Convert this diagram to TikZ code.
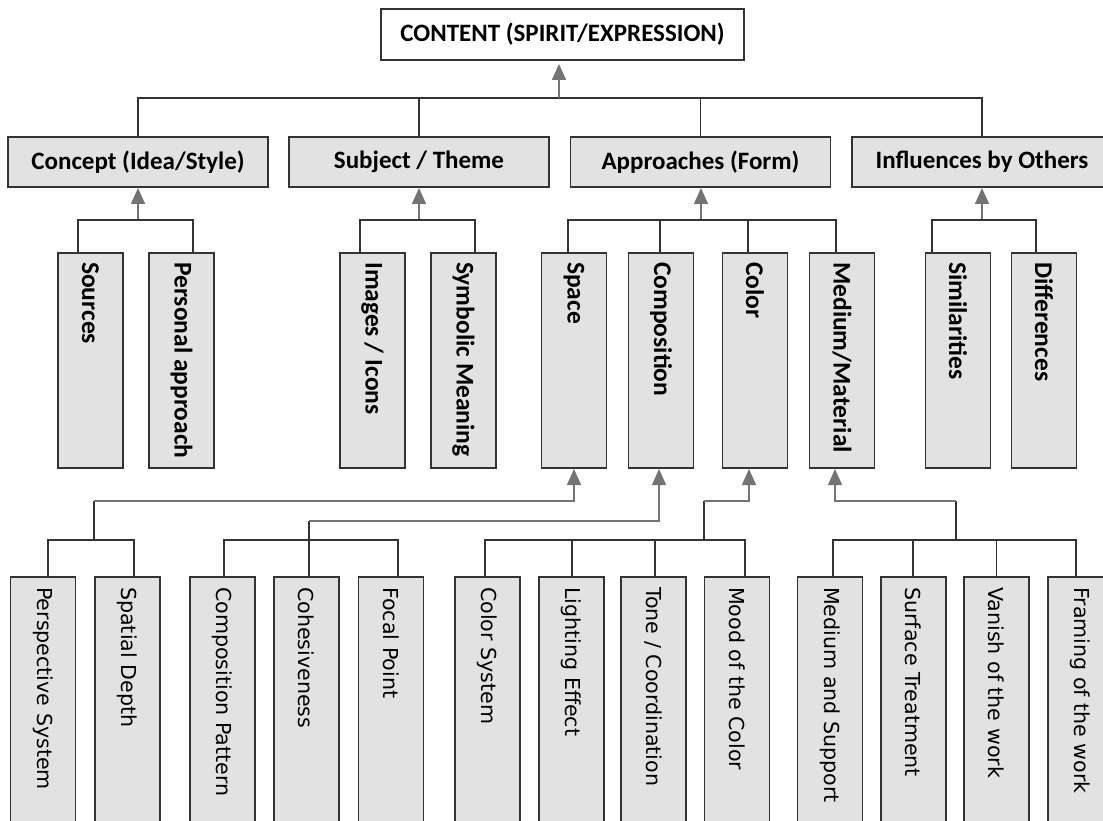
\documentclass[tikz,border=0pt]{standalone}
\usepackage{fontspec}
\setmainfont{Carlito}
\newfontfamily\rowthreefont{DejaVu Sans}
\usetikzlibrary{arrows.meta}
\definecolor{boxfill}{HTML}{E2E2E2}
\definecolor{edge}{HTML}{333333}
\definecolor{arrowgray}{HTML}{737373}
\begin{document}
\begin{tikzpicture}[x=1pt,y=-1pt,
  box/.style={draw=edge, line width=1.7pt, fill=boxfill, inner sep=0pt, outer sep=0pt},
  topbox/.style={box, fill=white, minimum width=363pt, minimum height=51pt, font=\fontsize{25}{30}\selectfont\bfseries},
  lvone/.style={box, minimum width=260pt, minimum height=50pt, font=\fontsize{25}{30}\selectfont\bfseries},
  lvtwo/.style={box, minimum width=65pt, minimum height=215pt},
  lvthree/.style={box, minimum width=65pt, minimum height=253pt},
  vtwo/.style={rotate=-90, anchor=west, inner sep=0pt, font=\fontsize{25.5}{30}\selectfont\bfseries},
  vthree/.style={rotate=-90, anchor=west, inner sep=0pt, font=\rowthreefont\fontsize{20.6}{24}\selectfont},
  dl/.style={draw=edge, line width=1.4pt},
  gl/.style={draw=arrowgray, line width=1.5pt},
  arr/.style={gl, -{Triangle[length=16pt,width=14pt]}, shorten >=1pt},
]
\useasboundingbox (0,0) rectangle (1103,821);
\clip (0,0) rectangle (1103,821);

% ---------- top ----------
\node[topbox] (content) at (562.5,34.5) {CONTENT (SPIRIT/EXPRESSION)};

% ---------- level 1 ----------
\node[lvone] (concept) at (138,162) {Concept (Idea/Style)};
\node[lvone] (subject) at (419,162) {Subject / Theme};
\node[lvone] (approaches) at (700.5,162) {Approaches (Form)};
\node[lvone] (influences) at (982,162) {Influences by Others};

% ---------- level 2 ----------
\node[lvtwo] (sources) at (90.5,360.5) {};
\node[lvtwo] (personal) at (181.5,360.5) {};
\node[lvtwo] (images) at (372.5,360.5) {};
\node[lvtwo] (symbolic) at (463.5,360.5) {};
\node[lvtwo] (space) at (574,360.5) {};
\node[lvtwo] (compo) at (661,360.5) {};
\node[lvtwo] (color) at (755,360.5) {};
\node[lvtwo] (medium) at (842,360.5) {};
\node[lvtwo] (simil) at (958,360.5) {};
\node[lvtwo] (differ) at (1044,360.5) {};

\node[vtwo] (sources-t) at ([yshift=-9pt]sources.north) {Sources};
\node[vtwo] (personal-t) at ([yshift=-9pt]personal.north) {Personal approach};
\node[vtwo] (images-t) at ([yshift=-9pt]images.north) {Images / Icons};
\node[vtwo] (symbolic-t) at ([yshift=-9pt]symbolic.north) {Symbolic Meaning};
\node[vtwo] (space-t) at ([yshift=-9pt]space.north) {Space};
\node[vtwo] (compo-t) at ([yshift=-9pt]compo.north) {Composition};
\node[vtwo] (color-t) at ([yshift=-9pt]color.north) {Color};
\node[vtwo] (medium-t) at ([yshift=-9pt]medium.north) {Medium/Material};
\node[vtwo] (simil-t) at ([yshift=-9pt]simil.north) {Similarities};
\node[vtwo] (differ-t) at ([yshift=-9pt]differ.north) {Differences};

% ---------- level 3 ----------
\node[lvthree] (persp) at (43,703.5) {};
\node[lvthree] (spatial) at (127.5,703.5) {};
\node[lvthree] (comppat) at (222.5,703.5) {};
\node[lvthree] (cohes) at (306.5,703.5) {};
\node[lvthree] (focal) at (391,703.5) {};
\node[lvthree] (colsys) at (487.5,703.5) {};
\node[lvthree] (lighting) at (571.5,703.5) {};
\node[lvthree] (tone) at (653.5,703.5) {};
\node[lvthree] (mood) at (737,703.5) {};
\node[lvthree] (medsup) at (830,703.5) {};
\node[lvthree] (surface) at (913.5,703.5) {};
\node[lvthree] (vanish) at (996.5,703.5) {};
\node[lvthree] (framing) at (1080.5,703.5) {};

\node[vthree] (persp-t) at ([yshift=-10pt]persp.north) {Perspective System};
\node[vthree] (spatial-t) at ([yshift=-10pt]spatial.north) {Spatial Depth};
\node[vthree] (comppat-t) at ([yshift=-10pt]comppat.north) {Composition Pattern};
\node[vthree] (cohes-t) at ([yshift=-10pt]cohes.north) {Cohesiveness};
\node[vthree] (focal-t) at ([yshift=-10pt]focal.north) {Focal Point};
\node[vthree] (colsys-t) at ([yshift=-10pt]colsys.north) {Color System};
\node[vthree] (lighting-t) at ([yshift=-10pt]lighting.north) {Lighting Effect};
\node[vthree] (tone-t) at ([yshift=-10pt]tone.north) {Tone / Coordination};
\node[vthree] (mood-t) at ([yshift=-10pt]mood.north) {Mood of the Color};
\node[vthree] (medsup-t) at ([yshift=-10pt]medsup.north) {Medium and Support};
\node[vthree] (surface-t) at ([yshift=-10pt]surface.north) {Surface Treatment};
\node[vthree] (vanish-t) at ([yshift=-10pt]vanish.north) {Vanish of the work};
\node[vthree] (framing-t) at ([yshift=-10pt]framing.north) {Framing of the work};

% ---------- connectors: level 1 -> top ----------
\coordinate (topj) at (559,98);
\draw[dl] (concept.north) -- ++(0,-39) -| (influences.north);
\draw[dl] (subject.north) -- (subject.north |- topj);
\draw[dl] (approaches.north) -- (approaches.north |- topj);
\draw[arr, shorten >=4pt] (topj) -- (topj |- content.south);

% ---------- connectors: level 2 -> level 1 ----------
\coordinate (cj) at (138,220);
\coordinate (sj) at (419,220);
\coordinate (aj) at (701,220);
\coordinate (ij) at (982,220);
\draw[arr] (cj) -- (concept.south);
\draw[arr] (sj) -- (subject.south);
\draw[arr] (aj) -- (aj |- approaches.south);
\draw[arr] (ij) -- (influences.south);

\draw[dl] ([xshift=-12.5pt]sources.north) -- ++(0,-33) -| ([xshift=11.5pt]personal.north);
\draw[dl] ([xshift=-12.5pt]images.north) -- ++(0,-33) -| ([xshift=11.5pt]symbolic.north);
\draw[dl] ([xshift=-6pt]space.north) -- ++(0,-33) -| ([xshift=-6pt]medium.north);
\draw[dl] ([xshift=-1pt]compo.north) -- ++(0,-33);
\draw[dl] ([xshift=-7pt]color.north) -- ++(0,-33);
\draw[dl] ([xshift=-26pt]simil.north) -- ++(0,-33) -| ([xshift=-8pt]differ.north);

% ---------- connectors: level 3 -> level 2 ----------
% Space
\coordinate (spj) at (94,540);
\coordinate (spk) at (94,501);
\draw[dl] ([xshift=5pt]persp.north) -- ++(0,-37) -| ([xshift=6.5pt]spatial.north);
\draw[dl] (spj) -- (spk);
\draw[arr] (spk) -| (space.south);
% Composition
\coordinate (cok) at (309,521);
\draw[dl] ([xshift=1.5pt]comppat.north) -- ++(0,-37) -| ([xshift=7pt]focal.north);
\draw[dl] ([xshift=2.5pt]cohes.north) -- (cok);
\draw[arr] (cok) -| ([xshift=-2pt]compo.south);
% Color
\coordinate (clj) at (704,540);
\coordinate (clk) at (704,501);
\draw[dl] ([xshift=-2.5pt]colsys.north) -- ++(0,-37) -| ([xshift=8pt]mood.north);
\draw[dl] ([xshift=0.5pt]lighting.north) -- ++(0,-37);
\draw[dl] ([xshift=1.5pt]tone.north) -- ++(0,-37);
\draw[dl] (clj) -- (clk);
\draw[arr] (clk) -| ([xshift=-6pt]color.south);
% Medium
\coordinate (mdj) at (956,540);
\coordinate (mdk) at (956,501);
\draw[dl] ([xshift=3pt]medsup.north) -- ++(0,-37) -| ([xshift=-4.5pt]framing.north);
\draw[dl] ([xshift=-0.5pt]surface.north) -- ++(0,-37);
\draw[dl] (vanish.north) -- ++(0,-37);
\draw[dl] (mdj) -- (mdk);
\draw[arr] (mdk) -| ([xshift=-7pt]medium.south);
\end{tikzpicture}
\end{document}
